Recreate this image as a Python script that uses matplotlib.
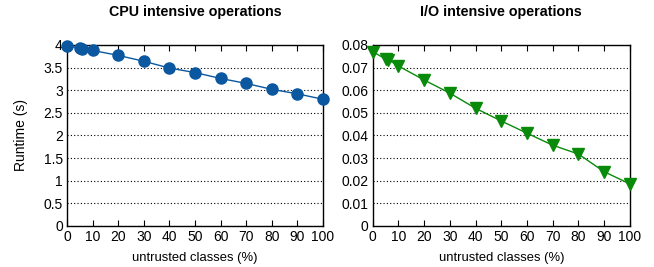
import matplotlib
matplotlib.use("Agg")
import matplotlib.pyplot as plt

# Data
untrusted = [0, 5, 6, 10, 20, 30, 40, 50, 60, 70, 80, 90, 100]
cpu_runtime = [3.98, 3.93, 3.92, 3.88, 3.77, 3.64, 3.49, 3.39, 3.26, 3.15, 3.02, 2.92, 2.80]
io_runtime = [0.0770, 0.0738, 0.0735, 0.0707, 0.0645, 0.0587, 0.0520, 0.0464,
              0.0410, 0.0357, 0.0318, 0.0240, 0.0186]

x_ticks = [0, 10, 20, 30, 40, 50, 60, 70, 80, 90, 100]
cpu_ticks = [0, 0.5, 1, 1.5, 2, 2.5, 3, 3.5, 4]
cpu_tick_labels = ["0", "0.5", "1", "1.5", "2", "2.5", "3", "3.5", "4"]
io_ticks = [0, 0.01, 0.02, 0.03, 0.04, 0.05, 0.06, 0.07, 0.08]
io_tick_labels = ["0", "0.01", "0.02", "0.03", "0.04", "0.05", "0.06", "0.07", "0.08"]

plt.rcParams['font.family'] = ['Liberation Sans', 'DejaVu Sans']
plt.rcParams['font.size'] = 10

fig = plt.figure(figsize=(6.54, 2.67), dpi=100)
ax1 = fig.add_axes([0.1024, 0.1536, 0.3915, 0.678])
ax2 = fig.add_axes([0.570, 0.1536, 0.393, 0.678])


def style(ax, title, yticks, ylabels, ymax):
    ax.set_xlim(0, 100)
    ax.set_ylim(0, ymax)
    ax.set_xticks(x_ticks)
    ax.set_yticks(yticks)
    ax.set_yticklabels(ylabels)
    ax.tick_params(direction='in', top=True, right=True, length=4,
                   width=0.8, labelsize=10, pad=3)
    ax.tick_params(axis='y', length=0)
    ax.yaxis.grid(True, linestyle=(0, (1, 2)), color='black', linewidth=0.8)
    ax.set_axisbelow(True)
    for sp in ax.spines.values():
        sp.set_linewidth(1.0)
    ax.set_title(title, fontweight='bold', fontsize=10.3, pad=21)
    ax.set_xlabel("untrusted classes (%)", fontsize=9.4, labelpad=6)


style(ax1, "CPU intensive operations", cpu_ticks, cpu_tick_labels, 4)
style(ax2, "I/O intensive operations", io_ticks, io_tick_labels, 0.08)

ax1.plot(untrusted, cpu_runtime, color='#0b58a0', linewidth=1.0, marker='o',
         markersize=8, clip_on=False, zorder=3)
ax2.plot(untrusted, io_runtime, color='#0a8a0a', linewidth=1.0, marker='v',
         markersize=8, clip_on=False, zorder=3)

ax1.set_ylabel("Runtime (s)", fontsize=10, labelpad=11)

fig.savefig("out.png", dpi=100)
